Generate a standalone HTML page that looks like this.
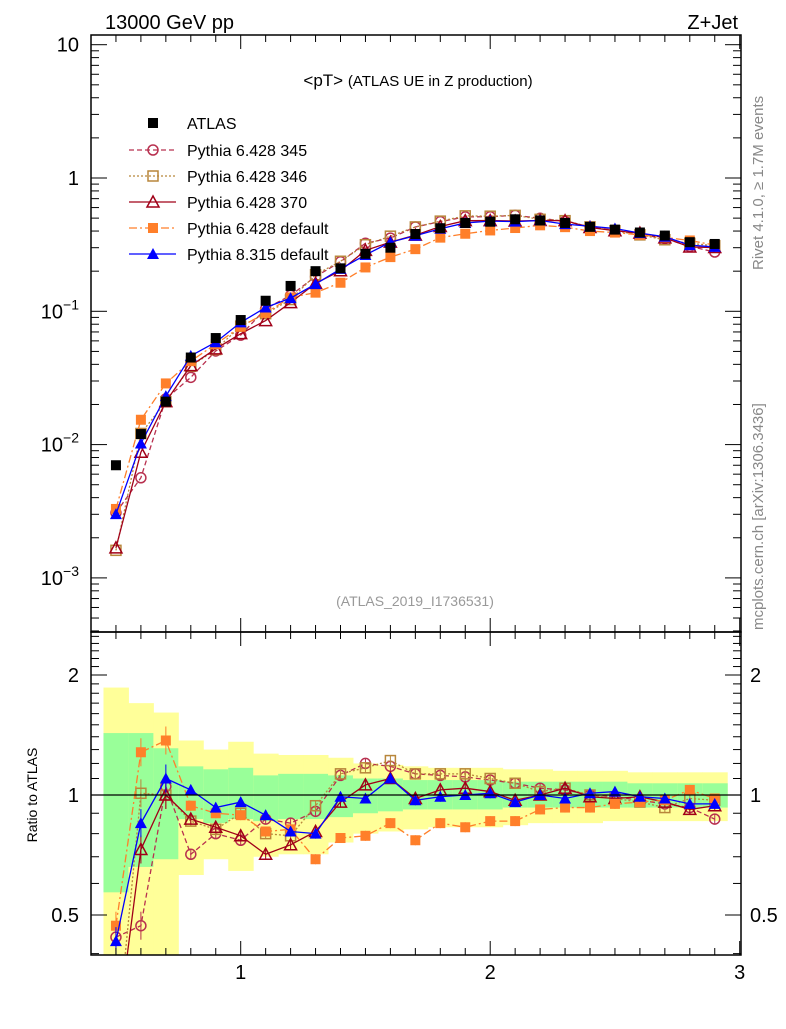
<!DOCTYPE html>
<html><head><meta charset="utf-8"><style>
body{margin:0;background:#fff;}
svg text{font-family:"Liberation Sans",sans-serif;}
</style></head><body>
<svg id="c" width="786" height="1024" xmlns="http://www.w3.org/2000/svg">
<defs>
<clipPath id="clipMain"><rect x="91" y="35" width="650" height="597"/></clipPath>
<clipPath id="clipRatio"><rect x="91" y="632" width="650" height="323"/></clipPath>
</defs>
<g id="bands" clip-path="url(#clipRatio)"></g>
<g id="marksMain" clip-path="url(#clipMain)"></g>
<g id="marksRatio" clip-path="url(#clipRatio)"></g>
<g id="axes"></g>
<text x="105" y="29" font-size="20">13000 GeV pp</text>
<text x="738" y="29" font-size="20" text-anchor="end">Z+Jet</text>
<text x="418" y="86" font-size="17" text-anchor="middle">&lt;pT&gt; <tspan font-size="15">(ATLAS UE in Z production)</tspan></text>
<text x="415" y="606" font-size="14" fill="#999" text-anchor="middle">(ATLAS_2019_I1736531)</text>
<text transform="translate(763,270) rotate(-90)" font-size="15" fill="#888">Rivet 4.1.0, ≥ 1.7M events</text>
<text transform="translate(763,630) rotate(-90)" font-size="15" fill="#888">mcplots.cern.ch [arXiv:1306.3436]</text>
<text transform="translate(37,795) rotate(-90)" font-size="14" text-anchor="middle">Ratio to ATLAS</text>
<g id="legend"></g>
</svg>
<script>
const xs=[0.5,0.6,0.7,0.8,0.9,1.0,1.1,1.2,1.3,1.4,1.5,1.6,1.7,1.8,1.9,2.0,2.1,2.2,2.3,2.4,2.5,2.6,2.7,2.8,2.9];
const atlas=[0.007,0.012,0.021,0.045,0.063,0.086,0.12,0.155,0.2,0.21,0.27,0.30,0.38,0.42,0.46,0.47,0.49,0.48,0.46,0.43,0.41,0.39,0.37,0.33,0.32];
const r345=[0.44,0.47,1.05,0.71,0.80,0.77,0.87,0.85,0.91,1.12,1.20,1.18,1.13,1.12,1.11,1.09,1.07,1.04,1.03,1.00,0.99,0.97,0.95,0.93,0.87];
const r346=[0.23,1.01,1.00,0.86,0.82,0.90,0.80,0.79,0.94,1.13,1.17,1.22,1.13,1.13,1.13,1.10,1.07,1.02,1.04,1.00,0.98,0.96,0.93,0.98,0.97];
const r370=[0.24,0.73,1.00,0.87,0.83,0.79,0.71,0.75,0.81,0.96,1.06,1.10,0.98,1.03,1.04,1.02,0.97,1.00,1.04,0.99,0.98,0.99,0.96,0.92,0.94];
const rdef=[0.47,1.28,1.37,0.94,0.90,0.89,0.81,0.82,0.69,0.78,0.79,0.85,0.77,0.85,0.83,0.86,0.86,0.92,0.93,0.93,0.95,0.96,0.97,1.03,0.98];
const rp8=[0.43,0.85,1.10,1.03,0.93,0.96,0.89,0.81,0.80,0.99,0.98,1.10,0.97,0.99,1.00,1.01,0.96,1.00,0.98,1.01,1.02,0.99,0.98,0.95,0.95];
const greenHi=[1.43,1.43,1.31,1.18,1.16,1.17,1.12,1.13,1.13,1.12,1.10,1.10,1.09,1.09,1.09,1.09,1.08,1.08,1.08,1.08,1.08,1.07,1.07,1.07,1.07];
const greenLo=[0.57,0.66,0.69,0.87,0.85,0.87,0.86,0.87,0.87,0.88,0.90,0.91,0.92,0.92,0.92,0.92,0.93,0.93,0.93,0.93,0.93,0.93,0.93,0.93,0.93];
const yellowHi=[1.86,1.70,1.61,1.37,1.30,1.36,1.27,1.26,1.26,1.24,1.20,1.19,1.18,1.17,1.17,1.17,1.16,1.16,1.15,1.15,1.15,1.14,1.14,1.14,1.14];
const yellowLo=[0.3,0.3,0.3,0.63,0.69,0.645,0.70,0.71,0.71,0.76,0.80,0.81,0.82,0.83,0.83,0.83,0.84,0.85,0.85,0.85,0.86,0.86,0.86,0.86,0.86];
const yMainTicks=["10","1","10-1","10-2","10-3"];
const yRatioTicks=[2,1,0.5];
const xTicks=[1,2,3];

const NS="http://www.w3.org/2000/svg";
const X=v=>91+(v-0.4)*249.5;
const YM=v=>178-Math.log10(v)*133.3;
const YR=v=>795-Math.log2(v)*120;
function mk(tag,attrs,parent){const e=document.createElementNS(NS,tag);for(const k in attrs)e.setAttribute(k,attrs[k]);parent.appendChild(e);return e;}
const bands=document.getElementById('bands'),mm=document.getElementById('marksMain'),mr=document.getElementById('marksRatio'),ax=document.getElementById('axes'),lg=document.getElementById('legend');

xs.forEach((x,i)=>{
  const y=mk('rect',{x:X(x-0.05),y:YR(yellowHi[i]),width:X(x+0.05)-X(x-0.05)+0.5,height:YR(yellowLo[i])-YR(yellowHi[i]),fill:'#ffff99'},bands);
  
  
  const g=mk('rect',{x:X(x-0.05),y:YR(greenHi[i]),width:X(x+0.05)-X(x-0.05)+0.5,height:YR(greenLo[i])-YR(greenHi[i]),fill:'#99ff99'},bands);
  
  
});
const one=mk('line',{x1:91,x2:741,y1:YR(1),y2:YR(1),stroke:'#000','stroke-width':1.3},ax);



function marker(type,cx,cy,col,parent,s){
  s=s||5;let e;
  if(type==='sqf') e=mk('rect',{x:cx-s,y:cy-s,width:2*s,height:2*s,fill:col},parent);
  else if(type==='sqo') e=mk('rect',{x:cx-s,y:cy-s,width:2*s,height:2*s,fill:'none',stroke:col,'stroke-width':1.5},parent);
  else if(type==='circ') e=mk('circle',{cx:cx,cy:cy,r:s,fill:'none',stroke:col,'stroke-width':1.5},parent);
  else if(type==='trio') e=mk('polygon',{points:`${cx},${cy-s-1} ${cx-s-1},${cy+s} ${cx+s+1},${cy+s}`,fill:'none',stroke:col,'stroke-width':1.5},parent);
  else e=mk('polygon',{points:`${cx},${cy-s-1} ${cx-s-1},${cy+s} ${cx+s+1},${cy+s}`,fill:col},parent);
  return e;
}
const series=[
 {name:'pythia-6428-345',label:'Pythia 6.428 345',r:r345,col:'#b8304f',dash:'5,3',m:'circ'},
 {name:'pythia-6428-346',label:'Pythia 6.428 346',r:r346,col:'#b8863b',dash:'2,2',m:'sqo'},
 {name:'pythia-6428-370',label:'Pythia 6.428 370',r:r370,col:'#a00018',dash:'',m:'trio'},
 {name:'pythia-6428-default',label:'Pythia 6.428 default',r:rdef,col:'#ff7f2a',dash:'8,3,2,3',m:'sqf'},
 {name:'pythia-8315-default',label:'Pythia 8.315 default',r:rp8,col:'#0000ff',dash:'',m:'trif'}
];
series.forEach(s=>{
  const mainVals=s.r.map((v,i)=>v*atlas[i]);
  const pm=mk('polyline',{points:xs.map((x,i)=>X(x)+','+YM(mainVals[i])).join(' '),fill:'none',stroke:s.col,'stroke-width':1.3,'stroke-dasharray':s.dash},mm);
  
  
  const pr=mk('polyline',{points:xs.map((x,i)=>X(x)+','+YR(s.r[i])).join(' '),fill:'none',stroke:s.col,'stroke-width':1.3,'stroke-dasharray':s.dash},mr);
  
  
  xs.forEach((x,i)=>{
    const err=i<3?14:5;
    mk('line',{x1:X(x),x2:X(x),y1:YR(s.r[i])-err,y2:YR(s.r[i])+err,stroke:s.col,'stroke-width':1},mr);
    const a=marker(s.m,X(x),YM(mainVals[i]),s.col,mm);
    
    
    const b=marker(s.m,X(x),YR(s.r[i]),s.col,mr);
    
    
  });
});
xs.forEach((x,i)=>{
  const p=marker('sqf',X(x),YM(atlas[i]),'#000',mm,5);
  
  
});

// legend
const ly=[123,150,176,202,228,254];
const lt=mk('text',{x:187,y:ly[0]+6,'font-size':16},lg);lt.textContent='ATLAS';
marker('sqf',153,ly[0],'#000',lg,5);
series.forEach((s,i)=>{
  const y=ly[i+1];
  mk('line',{x1:129,x2:176,y1:y,y2:y,stroke:s.col,'stroke-width':1.3,'stroke-dasharray':s.dash},lg);
  marker(s.m,153,y,s.col,lg);
  const t=mk('text',{x:187,y:y+6,'font-size':16},lg);
  t.textContent=s.label;
  
  
});

// frames
mk('rect',{x:91,y:35,width:650,height:597,fill:'none',stroke:'#000','stroke-width':1.5},ax);
mk('rect',{x:91,y:632,width:650,height:323,fill:'none',stroke:'#000','stroke-width':1.5},ax);
// x ticks
for(let k=4;k<=30;k++){const v=k/10,x=X(v),L=(k%10===0)?14:7;
  [[632,-L],[35,L],[955,-L],[632,L]].forEach(([y0,d])=>mk('line',{x1:x,x2:x,y1:y0,y2:y0+d,stroke:'#000'},ax));}
xTicks.forEach(v=>{const t=mk('text',{x:X(v),y:979,'font-size':20,'text-anchor':'middle'},ax);t.textContent=v;
  });
// main y ticks
for(let d=-4;d<=1;d++){for(let m=1;m<=9;m++){const v=m*Math.pow(10,d);const y=YM(v);if(y<35||y>632)continue;const L=m===1?16:8;
  mk('line',{x1:91,x2:91+L,y1:y,y2:y,stroke:'#000'},ax);mk('line',{x1:741,x2:741-L,y1:y,y2:y,stroke:'#000'},ax);}}
yMainTicks.forEach((lab,i)=>{const y=YM(Math.pow(10,1-i));
  const t=mk('text',{x:79,y:y+7,'font-size':20,'text-anchor':'end'},ax);
  
  if(lab.indexOf('10-')===0){t.textContent='10';const s=mk('tspan',{dy:-9,'font-size':14},t);s.textContent='−'+lab.slice(3);}
  else t.textContent=lab;});
// ratio y ticks
for(let k=4;k<=25;k++){const v=k/10;const y=YR(v);if(y<632||y>955)continue;const L=(k===5||k===10||k===20)?16:8;
  mk('line',{x1:91,x2:91+L,y1:y,y2:y,stroke:'#000'},ax);mk('line',{x1:741,x2:741-L,y1:y,y2:y,stroke:'#000'},ax);}
yRatioTicks.forEach(v=>{const y=YR(v)+7;
  const a=mk('text',{x:79,y:y,'font-size':20,'text-anchor':'end'},ax);a.textContent=v;
  
  const b=mk('text',{x:750,y:y,'font-size':20},ax);b.textContent=v;
  });
</script>
</body></html>
